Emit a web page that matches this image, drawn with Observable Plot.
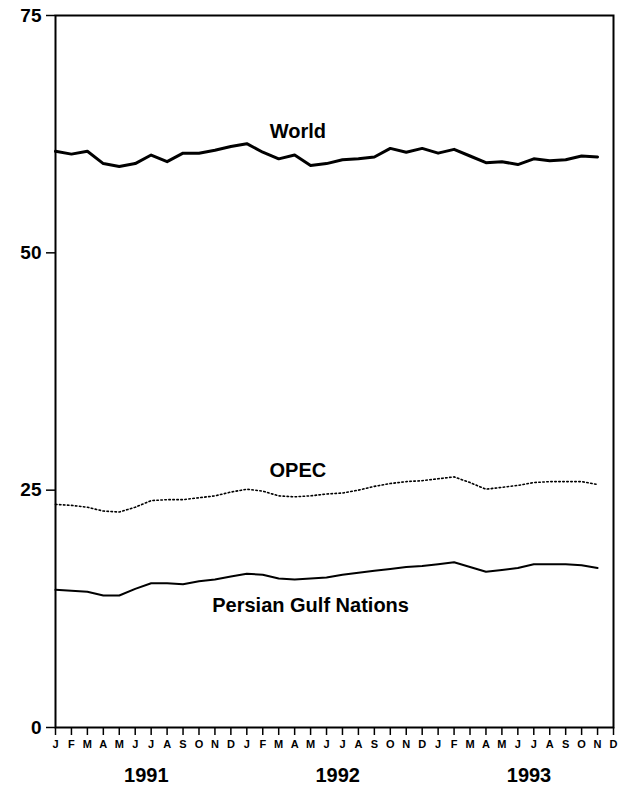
<!DOCTYPE html>
<html>
<head>
<meta charset="utf-8">
<script src="https://cdn.jsdelivr.net/npm/d3@7"></script>
<script src="https://cdn.jsdelivr.net/npm/@observablehq/plot@0.6"></script>
<style>
  html, body { margin: 0; padding: 0; background: #fff; }
  svg { display: block; }
</style>
</head>
<body>
<div id="chart"></div>
<script>
// Month letters and years (x axis)
const monthLetters = ["J","F","M","A","M","J","J","A","S","O","N","D"];
const years = [1991, 1992, 1993];
const yTicks = [0, 25, 50, 75];

// Monthly values, Jan 1991 – Nov 1993
const world = [60.7, 60.4, 60.7, 59.4, 59.1, 59.4, 60.3, 59.6, 60.5, 60.5, 60.8, 61.2,
               61.5, 60.6, 59.9, 60.3, 59.2, 59.4, 59.8, 59.9, 60.1, 61.0, 60.6, 61.0,
               60.5, 60.9, 60.2, 59.5, 59.6, 59.3, 59.9, 59.7, 59.8, 60.2, 60.1];
const opec = [23.5, 23.4, 23.2, 22.8, 22.7, 23.2, 23.9, 24.0, 24.0, 24.2, 24.4, 24.8,
              25.1, 24.9, 24.4, 24.3, 24.4, 24.6, 24.7, 25.0, 25.4, 25.7, 25.9, 26.0,
              26.2, 26.4, 25.8, 25.1, 25.3, 25.5, 25.8, 25.9, 25.9, 25.9, 25.6];
const gulf = [14.5, 14.4, 14.3, 13.9, 13.9, 14.6, 15.2, 15.2, 15.1, 15.4, 15.6, 15.9,
              16.2, 16.1, 15.7, 15.6, 15.7, 15.8, 16.1, 16.3, 16.5, 16.7, 16.9, 17.0,
              17.2, 17.4, 16.9, 16.4, 16.6, 16.8, 17.2, 17.2, 17.2, 17.1, 16.8];

// Series labels: name with anchor (month index, value)
const labelNames = ["World", "OPEC", "Persian Gulf Nations"];
const labelMonth = [15.2, 15.2, 16.0];
const labelValue = [62.8, 27.1, 12.8];

const rows = (arr) => arr.map((v, i) => ({i, v}));
const labels = labelNames.map((t, k) => ({t, x: labelMonth[k], y: labelValue[k]}));

const font = "Arial, 'Liberation Sans', Helvetica, sans-serif";

const chart = Plot.plot({
  width: 631,
  height: 787,
  marginLeft: 55,
  marginRight: 18,
  marginTop: 15,
  marginBottom: 60,
  style: {fontFamily: font, color: "#000", background: "#fff"},
  x: {type: "linear", domain: [0, 35], axis: null},
  y: {domain: [0, 75], axis: null},
  marks: [
    Plot.frame({stroke: "#000", strokeWidth: 2}),
    Plot.axisY({ticks: yTicks, tickSize: 9, tickPadding: 5, fontSize: 19, fontWeight: "bold",
                strokeWidth: 1.5, tickFormat: d => String(d)}),
    Plot.axisX({ticks: d3.range(36), tickSize: 8, tickPadding: 5, fontSize: 11, fontWeight: "bold",
                strokeWidth: 1.5, tickFormat: i => monthLetters[i % 12]}),
    Plot.text(years, {x: (d, k) => k * 12 + 5.7, y: 0, dy: 48, text: d => String(d),
                      fontSize: 20, fontWeight: "bold", fill: "#000"}),
    Plot.line(rows(world), {x: "i", y: "v", stroke: "#000", strokeWidth: 3, curve: "linear"}),
    Plot.line(rows(opec), {x: "i", y: "v", stroke: "#000", strokeWidth: 1.6,
                           strokeDasharray: "1.5,2.5", curve: "linear"}),
    Plot.line(rows(gulf), {x: "i", y: "v", stroke: "#000", strokeWidth: 2, curve: "linear"}),
    Plot.text(labels, {x: "x", y: "y", text: "t", fontSize: 20, fontWeight: "bold", fill: "#000"})
  ]
});
document.getElementById("chart").appendChild(chart);
</script>
</body>
</html>
